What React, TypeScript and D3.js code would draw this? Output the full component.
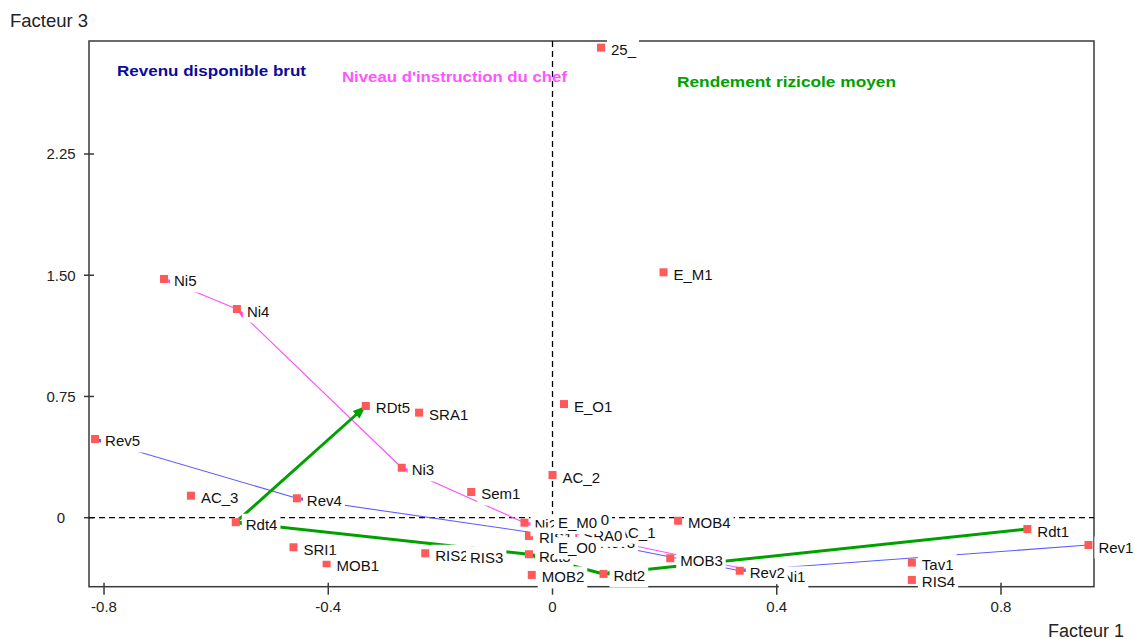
import React, { useEffect, useRef } from 'react';
import * as d3 from 'd3';

// Modalities (drawn in this order; later labels cover earlier ones)
const labels = [
  'Rev3', 'AC_0', 'AC_1', 'SRA0', 'Ni2', 'RIS1', 'Rdt3', 'E_M0', 'E_O0',
  '25_', 'E_M1', 'Ni5', 'Ni4', 'RDt5', 'SRA1', 'E_O1', 'Rev5', 'AC_2', 'Ni3', 'Sem1',
  'AC_3', 'Rev4', 'Rdt4', 'SRI1', 'MOB1', 'RIS2', 'RIS3', 'MOB4', 'MOB2', 'Rdt2',
  'MOB3', 'Ni1', 'Rev2', 'Tav1', 'RIS4', 'Rdt1', 'Rev1',
];
const factor1 = [
  0.067, 0.016, 0.099, 0.037, -0.050, -0.042, -0.042, -0.008, -0.008,
  0.0865, 0.198, -0.693, -0.563, -0.333, -0.238, 0.0205, -0.816, 0.0, -0.269, -0.145,
  -0.645, -0.456, -0.565, -0.462, -0.403, -0.227, -0.165, 0.224, -0.037, 0.091,
  0.210, 0.393, 0.334, 0.641, 0.641, 0.847, 0.956,
];
const factor3 = [
  -0.144, 0.001, -0.078, -0.097, -0.031, -0.113, -0.226, -0.018, -0.173,
  2.908, 1.518, 1.477, 1.291, 0.691, 0.650, 0.703, 0.487, 0.264, 0.309, 0.159,
  0.136, 0.120, -0.028, -0.183, -0.282, -0.220, -0.231, -0.019, -0.354, -0.348,
  -0.251, -0.354, -0.328, -0.278, -0.385, -0.070, -0.169,
];

// Trajectories
const revenuPath = ['Rev1', 'Rev2', 'Rev3', 'Rev4', 'Rev5'];
const niveauPath = ['Ni1', 'Ni2', 'Ni3', 'Ni4', 'Ni5'];
const rendementPath = ['Rdt1', 'Rdt2', 'Rdt3', 'Rdt4', 'RDt5'];

const xTicks = [-0.8, -0.4, 0, 0.4, 0.8];
const xTickLabels = ['-0.8', '-0.4', '0', '0.4', '0.8'];
const yTicks = [0, 0.75, 1.5, 2.25];
const yTickLabels = ['0', '0.75', '1.50', '2.25'];

const titles = ['Revenu disponible brut', "Niveau d'instruction du chef", 'Rendement rizicole moyen'];
const axisTitles = ['Facteur 1', 'Facteur 3'];

const W = 1135;
const H = 639;
const FONT = "'Liberation Sans', Arial, sans-serif";

export default function App() {
  const ref = useRef<SVGSVGElement | null>(null);

  useEffect(() => {
    const svg = d3.select(ref.current);
    svg.selectAll('*').remove();

    const left = 89, right = 1094, top = 41, bottom = 586.7;
    const x = d3.scaleLinear().domain([-0.8268, 0.9659]).range([left, right]);
    const y = d3.scaleLinear().domain([-0.4269, 2.949]).range([bottom, top]);

    svg.append('rect').attr('width', W).attr('height', H).attr('fill', '#fff');

    // frame
    svg.append('rect')
      .attr('x', left).attr('y', top)
      .attr('width', right - left).attr('height', bottom - top)
      .attr('fill', 'none').attr('stroke', '#3a3a3a').attr('stroke-width', 1.5);

    // y ticks
    yTicks.forEach((t, i) => {
      svg.append('line').attr('x1', left - 5).attr('x2', left + 5)
        .attr('y1', y(t)).attr('y2', y(t)).attr('stroke', '#3a3a3a').attr('stroke-width', 1.5);
      svg.append('text').attr('x', 61).attr('y', y(t) + 5.5)
        .attr('text-anchor', 'middle').attr('font-family', FONT).attr('font-size', 15)
        .attr('fill', '#222').text(yTickLabels[i]);
    });
    // x ticks
    xTicks.forEach((t, i) => {
      svg.append('line').attr('x1', x(t)).attr('x2', x(t))
        .attr('y1', bottom - 4).attr('y2', bottom + 8).attr('stroke', '#3a3a3a').attr('stroke-width', 1.5);
      svg.append('text').attr('x', x(t)).attr('y', 612)
        .attr('text-anchor', 'middle').attr('font-family', FONT).attr('font-size', 15)
        .attr('fill', '#222').text(xTickLabels[i]);
    });

    // dashed zero lines
    svg.append('line').attr('x1', x(0)).attr('x2', x(0)).attr('y1', top).attr('y2', bottom)
      .attr('stroke', '#000').attr('stroke-width', 1.3).attr('stroke-dasharray', '6,4');
    svg.append('line').attr('x1', left).attr('x2', right).attr('y1', y(0)).attr('y2', y(0))
      .attr('stroke', '#000').attr('stroke-width', 1.3).attr('stroke-dasharray', '6,4');

    const idx = (name: string) => labels.indexOf(name);
    const px = (name: string) => x(factor1[idx(name)]);
    const py = (name: string) => y(factor3[idx(name)]);

    const drawPath = (path: string[], color: string, width: number, aLen: number, aHalf: number) => {
      for (let i = 0; i < path.length - 1; i++) {
        const x1 = px(path[i]), y1 = py(path[i]);
        const x2 = px(path[i + 1]), y2 = py(path[i + 1]);
        svg.append('line').attr('x1', x1).attr('y1', y1).attr('x2', x2).attr('y2', y2)
          .attr('stroke', color).attr('stroke-width', width);
        const dx = x2 - x1, dy = y2 - y1;
        const len = Math.hypot(dx, dy);
        const ux = dx / len, uy = dy / len;
        const bx = x2 - ux * aLen, by = y2 - uy * aLen;
        const nx = -uy, ny = ux;
        svg.append('polygon')
          .attr('points', `${x2},${y2} ${bx + nx * aHalf},${by + ny * aHalf} ${bx - nx * aHalf},${by - ny * aHalf}`)
          .attr('fill', color);
      }
    };
    drawPath(revenuPath, '#5b5bff', 1.1, 10, 3);
    drawPath(niveauPath, '#ff4dff', 1.1, 10, 3);
    drawPath(rendementPath, '#00a000', 3, 13, 5);

    // markers
    labels.forEach((_, i) => {
      svg.append('rect')
        .attr('x', x(factor1[i]) - 4).attr('y', y(factor3[i]) - 4)
        .attr('width', 8).attr('height', 8).attr('fill', '#ff5a5a');
    });

    // labels with opaque background
    labels.forEach((lab, i) => {
      const cx = x(factor1[i]);
      const cy = y(factor3[i]);
      const g = svg.append('g');
      const rect = g.append('rect').attr('fill', '#fff');
      const txt = g.append('text')
        .attr('x', cx + 10).attr('y', cy + 7.5)
        .attr('font-family', FONT).attr('font-size', 15).attr('fill', '#111')
        .text(lab);
      const w = (txt.node() as SVGTextElement).getComputedTextLength();
      rect.attr('x', cx + 6).attr('y', cy + 7.5 - 16).attr('width', w + 7).attr('height', 22);
    });

    // titles
    const tConf = [
      { x: 117, y: 76, len: 189, color: '#0a0a9c' },
      { x: 342, y: 82, len: 225, color: '#ff55ff' },
      { x: 677, y: 86.5, len: 219, color: '#00a000' },
    ];
    titles.forEach((t, i) => {
      svg.append('text').attr('x', tConf[i].x).attr('y', tConf[i].y)
        .attr('font-family', FONT).attr('font-size', 15).attr('font-weight', 'bold')
        .attr('fill', tConf[i].color)
        .attr('textLength', tConf[i].len).attr('lengthAdjust', 'spacingAndGlyphs')
        .text(t);
    });

    // axis titles
    svg.append('text').attr('x', 1048).attr('y', 636.5)
      .attr('font-family', FONT).attr('font-size', 18).attr('fill', '#222').text(axisTitles[0]);
    svg.append('text').attr('x', 10).attr('y', 26.5)
      .attr('font-family', FONT).attr('font-size', 18.5).attr('fill', '#222').text(axisTitles[1]);
  }, []);

  return (
    <svg ref={ref} width={W} height={H}
      style={{ position: 'absolute', left: 0, top: 0, display: 'block' }} />
  );
}
